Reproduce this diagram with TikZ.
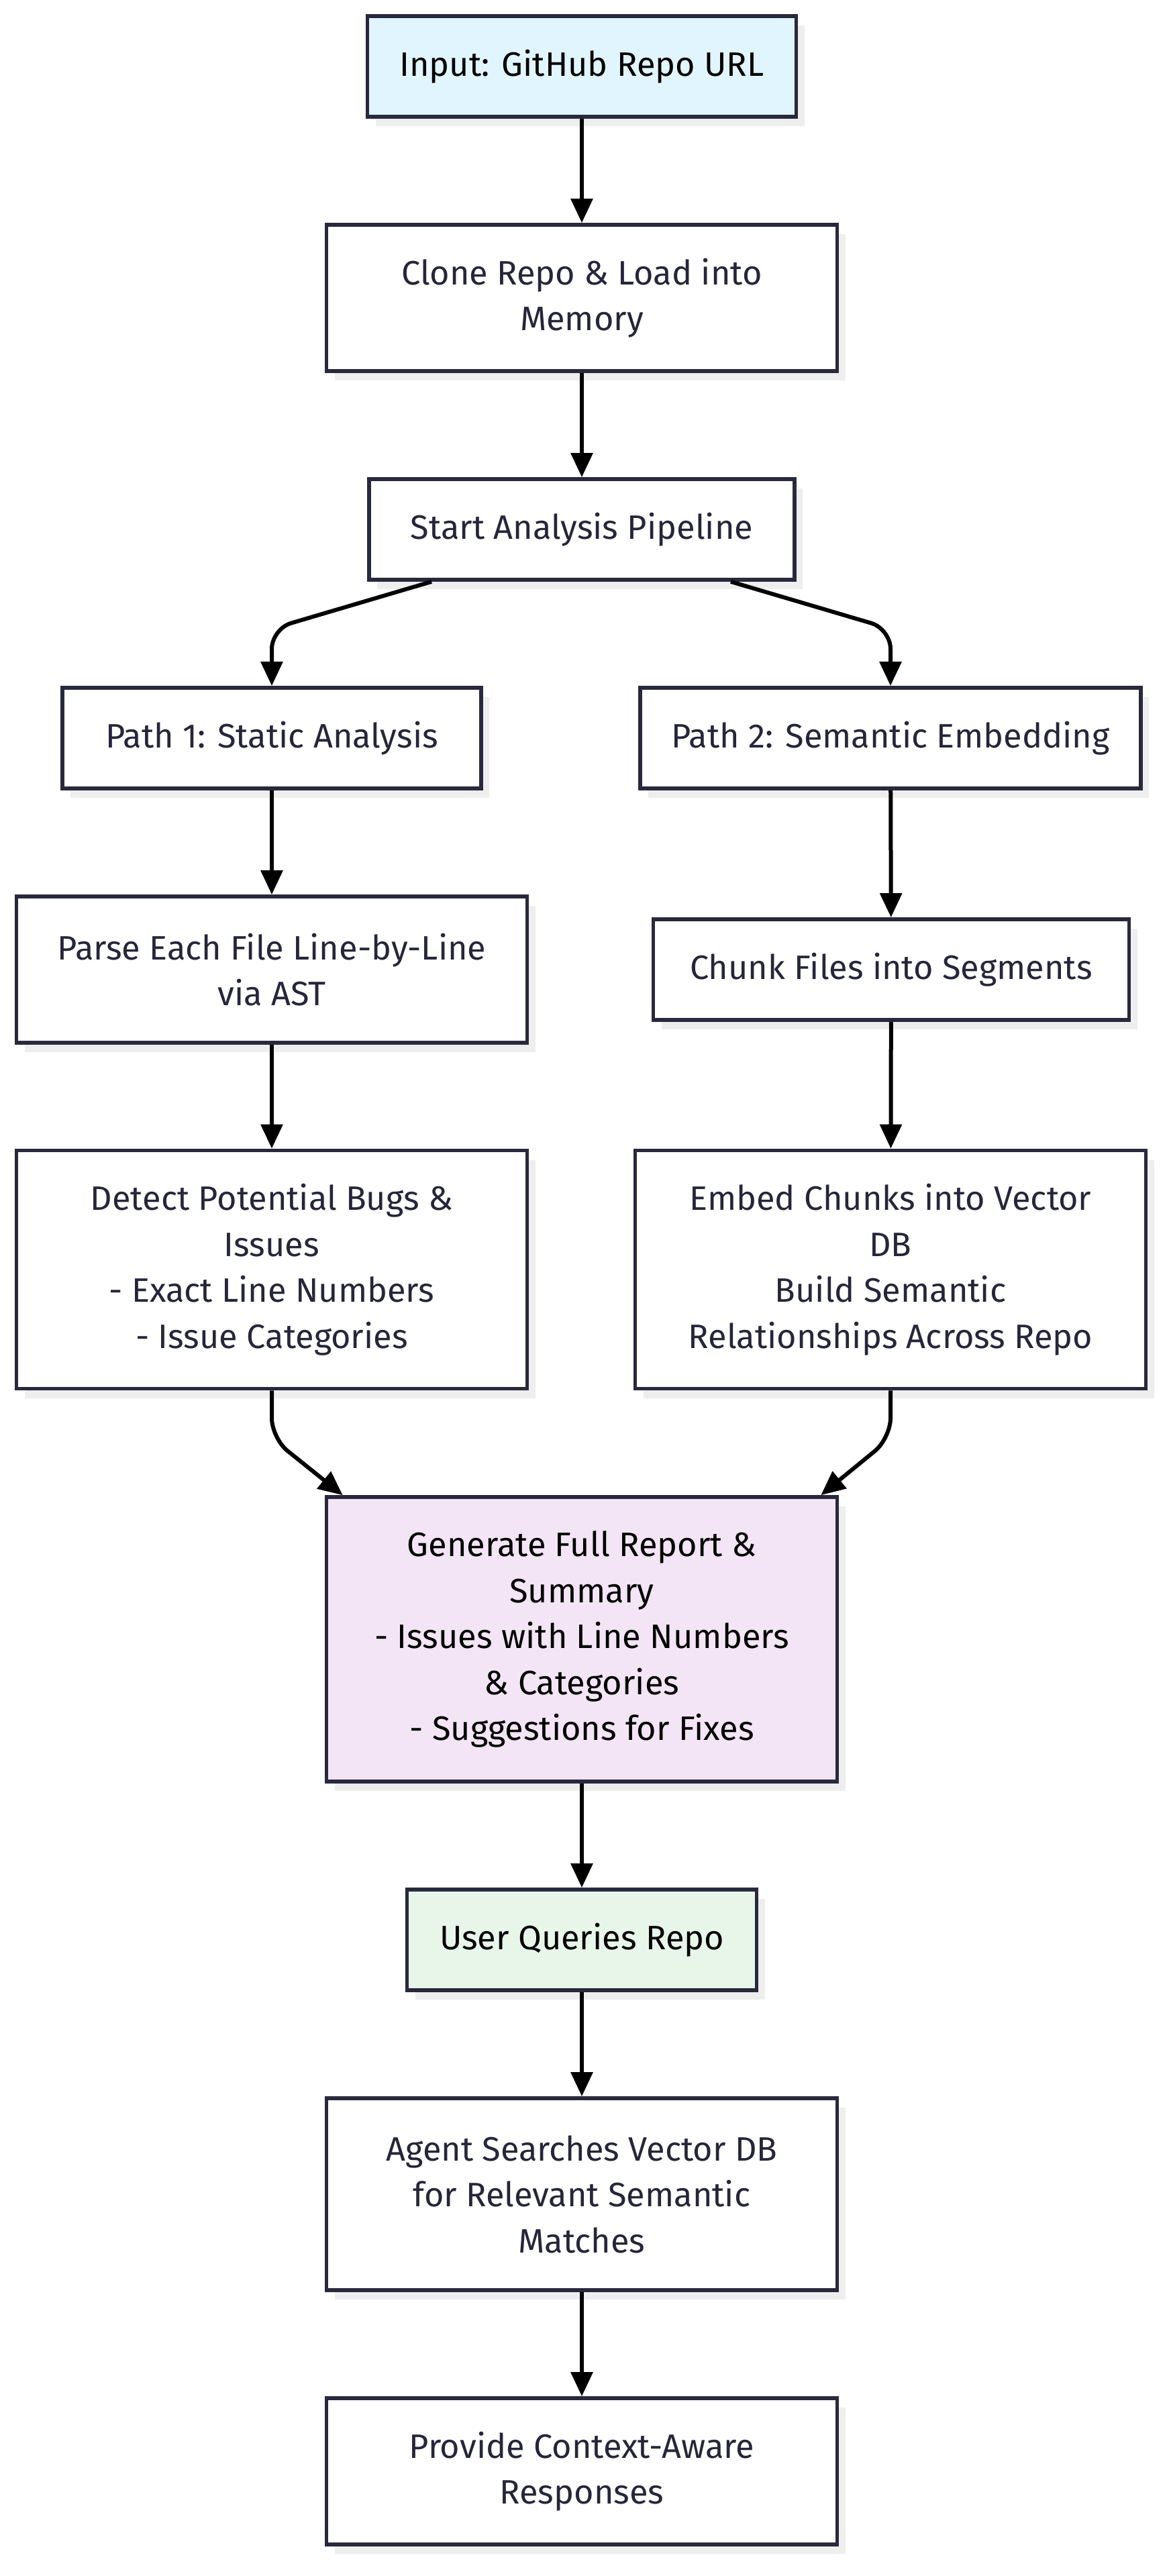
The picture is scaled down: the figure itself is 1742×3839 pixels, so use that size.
\documentclass[tikz,border=0pt]{standalone}
\usepackage{fontspec}
\setmainfont{Fira Sans}
\usetikzlibrary{arrows.meta,shadows}
\definecolor{cStroke}{RGB}{41,41,61}
\definecolor{cText}{RGB}{38,38,58}
\definecolor{cShadow}{RGB}{238,238,238}
\definecolor{cInput}{RGB}{225,245,254}
\definecolor{cReport}{RGB}{243,229,245}
\definecolor{cQuery}{RGB}{232,245,233}

\begin{document}
\begin{tikzpicture}[x=1pt,y=-1pt,
  box/.style={draw=cStroke,line width=5.7pt,fill=white,text=cText,align=center,
    font=\fontsize{50.5}{68.5}\selectfont,inner sep=0pt,minimum width=761pt,
    general shadow={fill=cShadow,shadow xshift=12pt,shadow yshift=-14pt}},
  lines1/.style={minimum height=150pt},
  lines2/.style={minimum height=218pt},
  lines3/.style={minimum height=286pt},
  lines4/.style={minimum height=355pt},
  lines5/.style={minimum height=424pt},
  flow/.style={draw=black,line width=6pt,-{Triangle[length=36pt,width=32pt]}}]
\useasboundingbox (0,0) rectangle (1742,3839);
\node[box,lines1,fill=cInput,text=black,minimum width=639pt] (input) at (867,99) {Input: GitHub Repo URL};
\node[box,lines2] (clone) at (867,444) {Clone Repo \& Load into\\Memory};
\node[box,lines1,minimum width=634pt] (start) at (867,789) {Start Analysis Pipeline};
\node[box,lines1,minimum width=624pt] (path1) at (405,1100) {Path 1: Static Analysis};
\node[box,lines1,minimum width=746pt] (path2) at (1327,1100) {Path 2: Semantic Embedding};
\node[box,lines2] (parse) at (405,1445) {Parse Each File Line-by-Line\\via AST};
\node[box,lines1,minimum width=709pt] (chunk) at (1328,1445) {Chunk Files into Segments};
\node[box,lines4] (detect) at (405,1892) {Detect Potential Bugs \&\\Issues\\- Exact Line Numbers\\- Issue Categories};
\node[box,lines4] (embed) at (1327,1892) {Embed Chunks into Vector\\DB\\Build Semantic\\Relationships Across Repo};
\node[box,lines5,fill=cReport,text=black] (report) at (867,2443) {Generate Full Report \&\\Summary\\- Issues with Line Numbers\\\& Categories\\- Suggestions for Fixes};
\node[box,lines1,fill=cQuery,text=black,minimum width=521pt] (query) at (867,2891) {User Queries Repo};
\node[box,lines3] (agent) at (867,3270) {Agent Searches Vector DB\\for Relevant Semantic\\Matches};
\node[box,lines2] (provide) at (867,3683) {Provide Context-Aware\\Responses};

\draw[flow] (input) -- (clone);
\draw[flow] (clone) -- (start);
\draw[flow,rounded corners=30pt] ([xshift=-224pt]start.south) -- ([yshift=85pt]path1.north) -- (path1.north);
\draw[flow,rounded corners=30pt] ([xshift=222pt]start.south) -- ([yshift=85pt]path2.north) -- (path2.north);
\draw[flow] (path1) -- (parse);
\draw[flow] (parse) -- (detect);
\draw[flow] (path2) -- (chunk);
\draw[flow] (chunk) -- (embed);
\draw[flow,rounded corners=30pt] (detect.south) -- ([yshift=-71pt]detect.south) -- ([xshift=27pt]report.north west);
\draw[flow,rounded corners=30pt] (embed.south) -- ([yshift=-71pt]embed.south) -- ([xshift=-27pt]report.north east);
\draw[flow] (report) -- (query);
\draw[flow] (query) -- (agent);
\draw[flow] (agent) -- (provide);
\end{tikzpicture}
\end{document}
